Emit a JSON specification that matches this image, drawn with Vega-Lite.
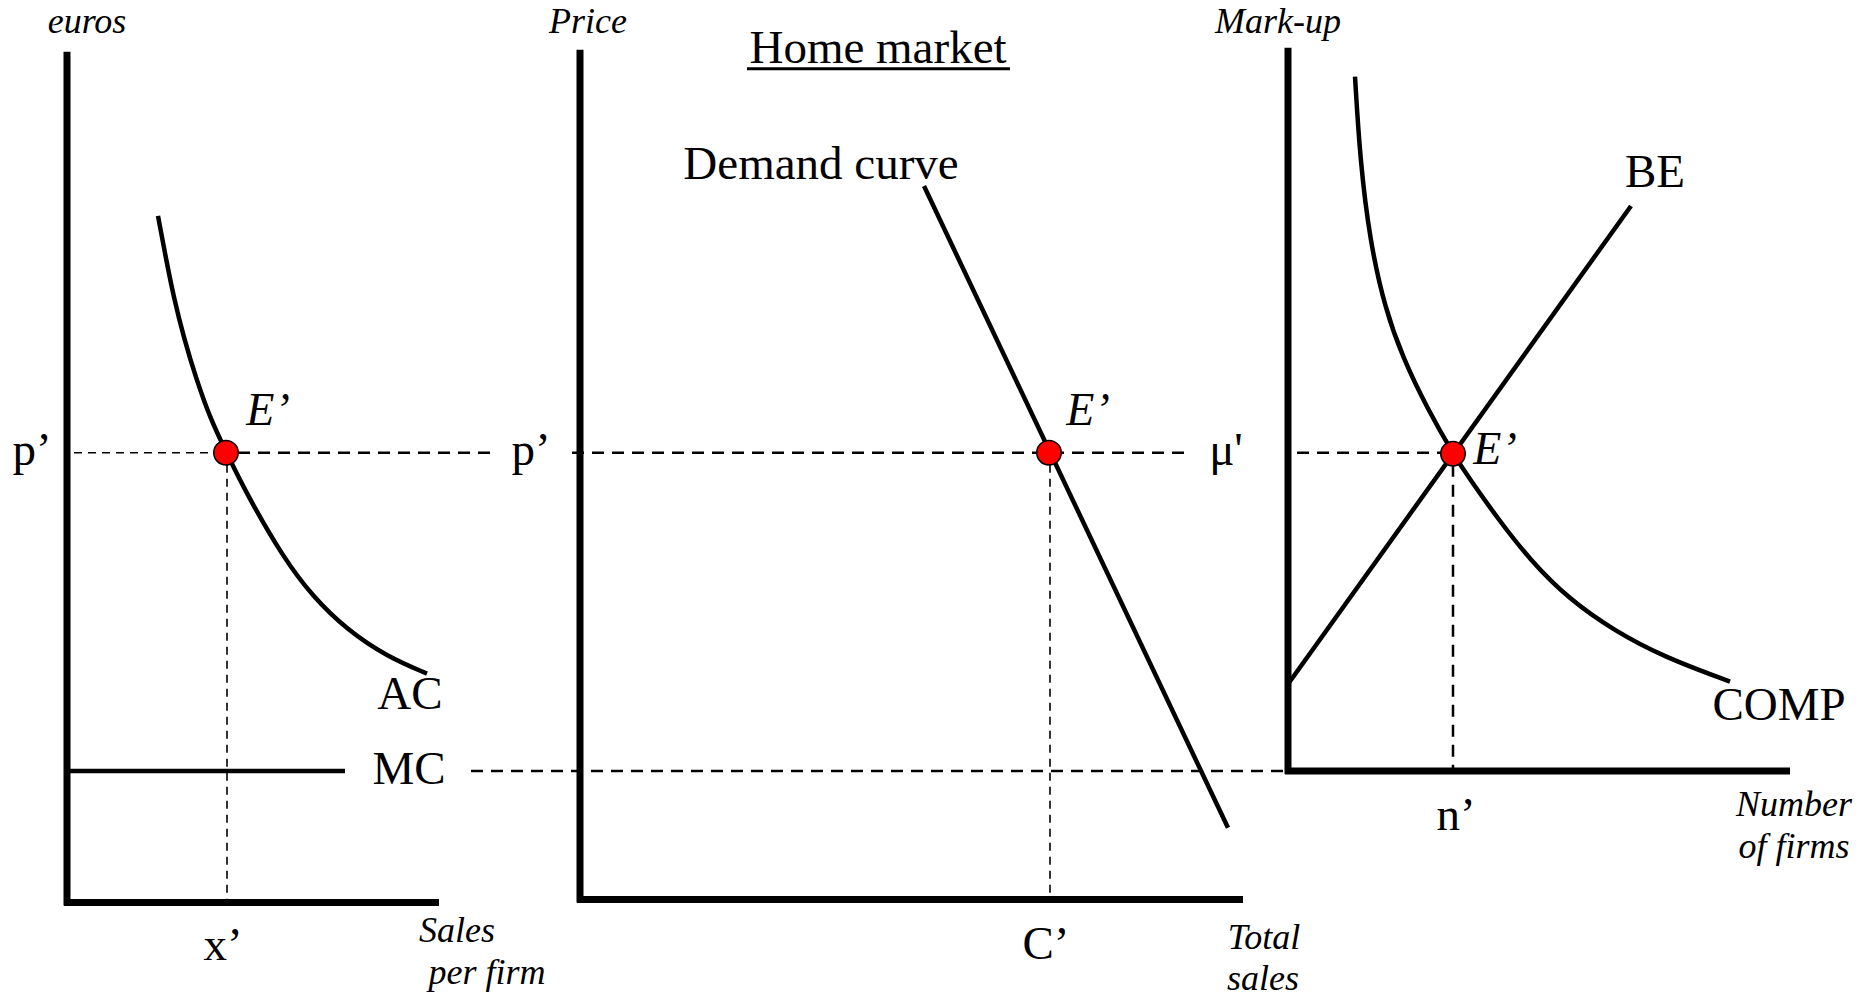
{
  "$schema": "https://vega.github.io/schema/vega-lite/v6.json",
  "width": 1870,
  "height": 997,
  "autosize": {"type": "fit", "contains": "padding"},
  "padding": 0,
  "background": "white",
  "config": {"view": {"stroke": null}},
  "datasets": {
    "segs": [
      {"g": "axis", "x": 67, "y": 52, "x2": 67, "y2": 910},
      {"g": "axis", "x": 64, "y": 907, "x2": 439, "y2": 907},
      {"g": "axis", "x": 580, "y": 50, "x2": 580, "y2": 907},
      {"g": "axis", "x": 577, "y": 904, "x2": 1243, "y2": 904},
      {"g": "axis", "x": 1288, "y": 48, "x2": 1288, "y2": 778},
      {"g": "axis", "x": 1285, "y": 775, "x2": 1790, "y2": 775},
      {"g": "curve", "x": 67, "y": 775, "x2": 345, "y2": 775},
      {"g": "curve", "x": 924, "y": 187, "x2": 1228, "y2": 832},
      {"g": "curve", "x": 1287, "y": 689, "x2": 1631, "y2": 207},
      {"g": "under", "x": 747, "y": 69, "x2": 1010, "y2": 69},
      {"g": "thin", "x": 74, "y": 455, "x2": 214, "y2": 455},
      {"g": "thin", "x": 227, "y": 467, "x2": 227, "y2": 904},
      {"g": "thin", "x": 1050, "y": 467, "x2": 1050, "y2": 901},
      {"g": "thick", "x": 238, "y": 455, "x2": 493, "y2": 455},
      {"g": "thick", "x": 572, "y": 455, "x2": 1188, "y2": 455},
      {"g": "thick", "x": 471, "y": 775, "x2": 1284, "y2": 775},
      {"g": "thick", "x": 1297, "y": 455, "x2": 1441, "y2": 455},
      {"g": "thick", "x": 1453, "y": 467, "x2": 1453, "y2": 772}
    ],
    "curves": [
      {"c": "AC", "o": 1, "x": 158, "y": 217},
      {"c": "AC", "o": 2, "x": 166, "y": 260},
      {"c": "AC", "o": 3, "x": 174, "y": 300},
      {"c": "AC", "o": 4, "x": 184, "y": 340},
      {"c": "AC", "o": 5, "x": 196, "y": 380},
      {"c": "AC", "o": 6, "x": 210, "y": 420},
      {"c": "AC", "o": 7, "x": 226, "y": 454},
      {"c": "AC", "o": 8, "x": 247, "y": 497},
      {"c": "AC", "o": 9, "x": 283, "y": 560},
      {"c": "AC", "o": 10, "x": 313, "y": 600},
      {"c": "AC", "o": 11, "x": 347, "y": 633},
      {"c": "AC", "o": 12, "x": 387, "y": 660},
      {"c": "AC", "o": 13, "x": 427, "y": 677},
      {"c": "COMP", "o": 1, "x": 1355, "y": 77},
      {"c": "COMP", "o": 2, "x": 1360, "y": 160},
      {"c": "COMP", "o": 3, "x": 1370, "y": 243},
      {"c": "COMP", "o": 4, "x": 1385, "y": 310},
      {"c": "COMP", "o": 5, "x": 1403, "y": 360},
      {"c": "COMP", "o": 6, "x": 1427, "y": 410},
      {"c": "COMP", "o": 7, "x": 1453, "y": 456},
      {"c": "COMP", "o": 8, "x": 1470, "y": 482},
      {"c": "COMP", "o": 9, "x": 1497, "y": 520},
      {"c": "COMP", "o": 10, "x": 1530, "y": 563},
      {"c": "COMP", "o": 11, "x": 1570, "y": 603},
      {"c": "COMP", "o": 12, "x": 1613, "y": 633},
      {"c": "COMP", "o": 13, "x": 1663, "y": 660},
      {"c": "COMP", "o": 14, "x": 1730, "y": 685}
    ],
    "dots": [
      {"x": 226, "y": 455},
      {"x": 1049, "y": 455},
      {"x": 1453, "y": 456}
    ],
    "labels": [
      {"s": "ital", "t": "euros", "x": 87, "y": 33},
      {"s": "ital", "t": "Price", "x": 588, "y": 33},
      {"s": "ital", "t": "Mark-up", "x": 1278, "y": 33},
      {"s": "reg", "t": "Home market", "x": 878, "y": 63},
      {"s": "reg", "t": "Demand curve", "x": 821, "y": 180},
      {"s": "reg", "t": "BE", "x": 1655, "y": 188},
      {"s": "e", "t": "E’", "x": 268, "y": 427},
      {"s": "e", "t": "E’", "x": 1088, "y": 427},
      {"s": "e", "t": "E’", "x": 1495, "y": 466},
      {"s": "reg", "t": "p’", "x": 32, "y": 467},
      {"s": "reg", "t": "p’", "x": 531, "y": 467},
      {"s": "reg", "t": "μ'", "x": 1226, "y": 467},
      {"s": "reg", "t": "AC", "x": 410, "y": 713},
      {"s": "reg", "t": "MC", "x": 409, "y": 788},
      {"s": "reg", "t": "COMP", "x": 1779, "y": 724},
      {"s": "reg", "t": "n’", "x": 1456, "y": 834},
      {"s": "ital", "t": "Number", "x": 1794, "y": 820},
      {"s": "ital", "t": "of firms", "x": 1794, "y": 862},
      {"s": "reg", "t": "x’", "x": 223, "y": 965},
      {"s": "ital", "t": "Sales", "x": 457, "y": 947},
      {"s": "ital", "t": "per firm", "x": 487, "y": 989},
      {"s": "reg", "t": "C’", "x": 1046, "y": 964},
      {"s": "ital", "t": "Total", "x": 1264, "y": 954},
      {"s": "ital", "t": "sales", "x": 1263, "y": 995}
    ]
  },
  "encoding": {
    "x": {"field": "x", "type": "quantitative", "scale": {"domain": [0, 1870], "nice": false, "zero": false}, "axis": null},
    "y": {"field": "y", "type": "quantitative", "scale": {"domain": [0, 997], "reverse": true, "nice": false, "zero": false}, "axis": null}
  },
  "layer": [
    {
      "data": {"name": "segs"},
      "transform": [{"filter": "datum.g === 'thin'"}],
      "mark": {"type": "rule", "color": "black", "strokeWidth": 1.6, "strokeDash": [8, 6]},
      "encoding": {"x2": {"field": "x2"}, "y2": {"field": "y2"}}
    },
    {
      "data": {"name": "segs"},
      "transform": [{"filter": "datum.g === 'thick'"}],
      "mark": {"type": "rule", "color": "black", "strokeWidth": 2.5, "strokeDash": [12, 8]},
      "encoding": {"x2": {"field": "x2"}, "y2": {"field": "y2"}}
    },
    {
      "data": {"name": "segs"},
      "transform": [{"filter": "datum.g === 'axis'"}],
      "mark": {"type": "rule", "color": "black", "strokeWidth": 7},
      "encoding": {"x2": {"field": "x2"}, "y2": {"field": "y2"}}
    },
    {
      "data": {"name": "segs"},
      "transform": [{"filter": "datum.g === 'curve'"}],
      "mark": {"type": "rule", "color": "black", "strokeWidth": 4.5},
      "encoding": {"x2": {"field": "x2"}, "y2": {"field": "y2"}}
    },
    {
      "data": {"name": "segs"},
      "transform": [{"filter": "datum.g === 'under'"}],
      "mark": {"type": "rule", "color": "black", "strokeWidth": 3},
      "encoding": {"x2": {"field": "x2"}, "y2": {"field": "y2"}}
    },
    {
      "data": {"name": "curves"},
      "mark": {"type": "line", "interpolate": "basis", "color": "black", "strokeWidth": 4.5},
      "encoding": {"detail": {"field": "c"}, "order": {"field": "o", "type": "quantitative"}}
    },
    {
      "data": {"name": "dots"},
      "mark": {"type": "point", "shape": "circle", "filled": true, "fill": "#ff0000", "stroke": "black", "strokeWidth": 1.5, "size": 600, "opacity": 1}
    },
    {
      "data": {"name": "labels"},
      "transform": [{"filter": "datum.s === 'reg'"}],
      "mark": {"type": "text", "font": "Liberation Serif", "fontSize": 47, "align": "center", "baseline": "alphabetic", "color": "black"},
      "encoding": {"text": {"field": "t"}}
    },
    {
      "data": {"name": "labels"},
      "transform": [{"filter": "datum.s === 'ital'"}],
      "mark": {"type": "text", "font": "Liberation Serif", "fontSize": 36, "fontStyle": "italic", "align": "center", "baseline": "alphabetic", "color": "black"},
      "encoding": {"text": {"field": "t"}}
    },
    {
      "data": {"name": "labels"},
      "transform": [{"filter": "datum.s === 'e'"}],
      "mark": {"type": "text", "font": "Liberation Serif", "fontSize": 46, "fontStyle": "italic", "align": "center", "baseline": "alphabetic", "color": "black"},
      "encoding": {"text": {"field": "t"}}
    }
  ]
}
